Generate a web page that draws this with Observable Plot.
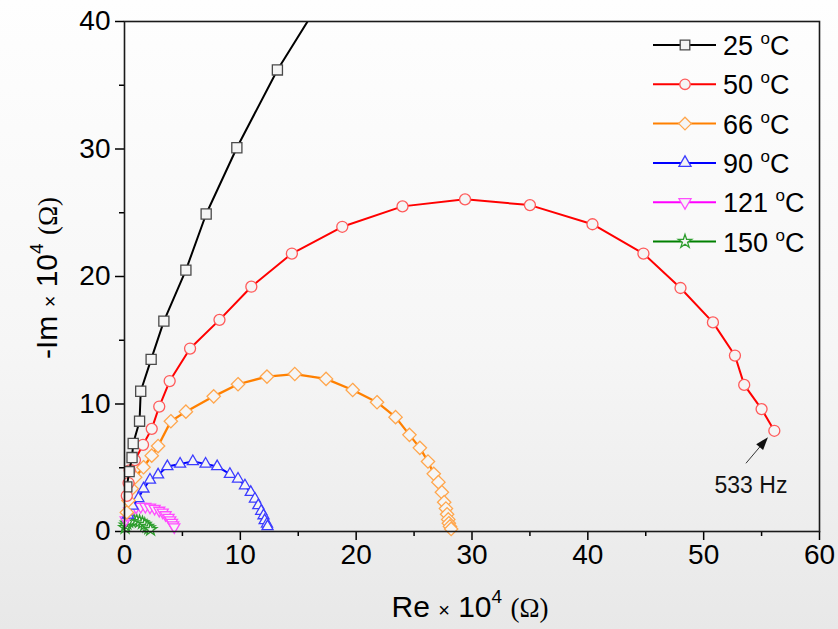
<!DOCTYPE html>
<html><head><meta charset="utf-8">
<script src="https://cdn.jsdelivr.net/npm/d3@7"></script>
<script src="https://cdn.jsdelivr.net/npm/@observablehq/plot@0.6"></script>
<style>
body{margin:0;background:#fff;}
#wrap{position:relative;width:838px;height:629px;overflow:hidden;
 background:linear-gradient(to bottom,#fefefe 0%,#f6f6f6 55%,#e8e8e8 100%);
 font-family:"Liberation Sans",Arial,sans-serif;color:#000;}
#wrap > svg{position:absolute;left:0;top:0;}
.lab{position:absolute;white-space:nowrap;font-size:30px;line-height:1;}
.lab .x{font-size:20px;}
.lab sup{font-size:19px;position:relative;top:-3px;}
.lab .om{font-family:"Liberation Serif","Times New Roman",serif;font-size:27px;}
#ylab{transform-origin:center center;transform:translate(-50%,-50%) rotate(-90deg);}
#xlab{transform:translate(-50%,-50%);}
</style></head><body><div id="wrap"></div>
<script>
// ---- data (Re x 10^4 Ω, -Im x 10^4 Ω) ----
const temps = ["25", "50", "66", "90", "121", "150"];
const colors = ["#000000", "#ff0000", "#ff8000", "#0000ff", "#ff00ff", "#008000"];
const markerColors = ["#4a4a4a", "#ff5a5a", "#ffa64d", "#3c3cff", "#ff4dff", "#2e9e2e"];

const re25 = [0.2, 0.4, 0.65, 0.75, 1.3, 1.4, 2.3, 3.4, 5.3, 7.05, 9.7, 13.2, 16.9];
const im25 = [3.5, 4.7, 5.8, 6.9, 8.65, 11.0, 13.5, 16.5, 20.5, 24.9, 30.1, 36.2, 41.6];

const re50 = [0.2, 0.35, 0.45, 0.9, 1.6, 2.35, 3.0, 3.9, 5.66, 8.2, 10.95, 14.45, 18.8, 24.0, 29.4, 35.0, 40.4, 44.8, 48.0, 50.8, 52.7, 53.5, 55.0, 56.1];
const im50 = [2.8, 3.8, 4.8, 5.6, 6.8, 8.05, 9.8, 11.8, 14.35, 16.6, 19.2, 21.8, 23.9, 25.5, 26.05, 25.6, 24.1, 21.8, 19.1, 16.4, 13.8, 11.5, 9.6, 7.9];

const re66 = [0.2, 0.34, 0.63, 0.92, 1.64, 2.35, 2.9, 4.0, 5.3, 7.7, 9.8, 12.3, 14.7, 17.4, 19.7, 21.8, 23.4, 24.6, 25.5, 26.2, 26.7, 27.1, 27.4, 27.6, 27.75, 27.85, 27.95, 28.0, 28.1, 28.2];
const im66 = [1.5, 2.43, 3.35, 4.26, 5.04, 5.95, 6.7, 8.65, 9.4, 10.6, 11.55, 12.15, 12.35, 11.97, 11.1, 10.14, 8.97, 7.58, 6.56, 5.49, 4.52, 3.87, 3.08, 2.3, 1.8, 1.35, 0.95, 0.65, 0.4, 0.2];

const re90 = [0.3, 0.7, 1.2, 1.64, 2.2, 2.9, 3.7, 4.8, 5.9, 7.0, 8.0, 9.1, 9.8, 10.4, 10.9, 11.26, 11.55, 11.8, 12.0, 12.1, 12.3, 12.35];
const im90 = [1.3, 2.0, 2.6, 3.35, 4.05, 4.45, 5.1, 5.3, 5.5, 5.3, 5.1, 4.5, 4.13, 3.6, 3.08, 2.56, 2.04, 1.6, 1.25, 0.86, 0.6, 0.39];

const re121 = [0.1, 0.2, 0.4, 0.7, 1.0, 1.4, 1.8, 2.2, 2.6, 3.0, 3.3, 3.55, 3.8, 3.95, 4.1, 4.2, 4.3];
const im121 = [0.9, 1.3, 1.6, 1.8, 1.9, 1.95, 1.95, 1.9, 1.8, 1.65, 1.5, 1.3, 1.1, 0.9, 0.7, 0.5, 0.35];

const re150 = [0.05, 0.1, 0.2, 0.35, 0.55, 0.8, 1.05, 1.3, 1.55, 1.75, 1.95, 2.1, 2.25];
const im150 = [0.3, 0.5, 0.65, 0.78, 0.85, 0.88, 0.85, 0.78, 0.68, 0.55, 0.4, 0.28, 0.15];

const xMajor = [0, 10, 20, 30, 40, 50, 60];
const xMinor = [5, 15, 25, 35, 45, 55];
const yMajor = [0, 10, 20, 30, 40];
const yMinor = [5, 15, 25, 35];

const annotation = {label: "533 Hz", series: 1};

// ---- symbols ----
const triDown = {
  draw(ctx, size) {
    const y = Math.sqrt(size / (Math.sqrt(3) * 3));
    ctx.moveTo(0, 2 * y);
    ctx.lineTo(-Math.sqrt(3) * y, -y);
    ctx.lineTo(Math.sqrt(3) * y, -y);
    ctx.closePath();
  }
};
const symbols = [d3.symbolSquare, d3.symbolCircle, d3.symbolDiamond2, d3.symbolTriangle, triDown, d3.symbolStar];
const radii = [5.7, 5.5, 6.0, 4.1, 4.1, 3.9];

const reArr = [re25, re50, re66, re90, re121, re150];
const imArr = [im25, im50, im66, im90, im121, im150];
const series = temps.map((t, i) => reArr[i].map((re, j) => ({re, im: imArr[i][j], t})));

const markerFill = "#f5f5f5";

const marks = [
  Plot.axisX({ticks: xMajor, tickSize: 9, tickPadding: 4, label: null, tickFormat: d => String(d), strokeWidth: 1.5}),
  Plot.axisX({ticks: xMinor, tickSize: 5, label: null, tickFormat: () => "", strokeWidth: 1.5}),
  Plot.axisY({ticks: yMajor, tickSize: 9, tickPadding: 5, label: null, tickFormat: d => String(d), strokeWidth: 1.5}),
  Plot.axisY({ticks: yMinor, tickSize: 5, label: null, tickFormat: () => "", strokeWidth: 1.5})
];
// draw later series first so 25/50 are on top
for (let i = series.length - 1; i >= 0; i--) {
  const clip = i === 0;
  marks.push(Plot.line(series[i], {x: "re", y: "im", stroke: colors[i], strokeWidth: i === 2 ? 2.3 : 2, clip}));
  marks.push(Plot.dot(series[i], {x: "re", y: "im", symbol: symbols[i], r: radii[i], stroke: markerColors[i], strokeWidth: 1.3, fill: markerFill, clip}));
}
// annotation arrow toward last point of 50 °C
const last = series[annotation.series][series[annotation.series].length - 1];
const arrowData = [{x1: last.re - 2.45, y1: last.im - 2.55, x2: last.re - 0.8, y2: last.im - 0.78, label: annotation.label}];
const head = {
  draw(ctx, size) {
    const dx = 20, dy = -24, L = Math.hypot(dx, dy);
    const ux = dx / L, uy = dy / L, px = -uy, py = ux;
    const len = 13, w = 4.5;
    ctx.moveTo(ux * len * 0.35, uy * len * 0.35);
    ctx.lineTo(-ux * len * 0.65 + px * w, -uy * len * 0.65 + py * w);
    ctx.lineTo(-ux * len * 0.65 - px * w, -uy * len * 0.65 - py * w);
    ctx.closePath();
  }
};
marks.push(Plot.link(arrowData, {x1: "x1", y1: "y1", x2: "x2", y2: "y2", stroke: "#333", strokeWidth: 1}));
marks.push(Plot.dot(arrowData, {x: "x2", y: "y2", symbol: head, r: 4, fill: "#111", stroke: "none"}));
marks.push(Plot.text(arrowData, {x: "x1", y: "y1", text: "label", dy: 22, dx: 5, fontSize: 23, fill: "#111"}));
marks.push(Plot.frame({stroke: "#1a1a1a", strokeWidth: 1.6}));

const chart = Plot.plot({
  width: 838, height: 629,
  marginLeft: 124, marginRight: 19, marginTop: 21, marginBottom: 98,
  x: {domain: [0, 60]},
  y: {domain: [0, 40]},
  style: {background: "transparent", fontFamily: "'Liberation Sans', Arial, sans-serif", fontSize: "28px", color: "#000", overflow: "visible"},
  marks
});
const wrap = document.getElementById("wrap");
wrap.appendChild(chart);

// ---- legend (inside plot, top right) ----
const legend = d3.select(wrap).append("svg").attr("width", 838).attr("height", 629)
  .style("position", "absolute").style("left", 0).style("top", 0).style("pointer-events", "none");
temps.forEach((t, i) => {
  const cy = 45 + i * 39.3;
  legend.append("line").attr("x1", 653).attr("x2", 716).attr("y1", cy).attr("y2", cy)
    .attr("stroke", colors[i]).attr("stroke-width", 2);
  legend.append("path").attr("transform", `translate(685,${cy})`)
    .attr("d", d3.symbol().type(symbols[i]).size(Math.PI * radii[i] * radii[i] * (i >= 3 ? 1.2 : 0.9))())
    .attr("fill", markerFill).attr("stroke", markerColors[i]).attr("stroke-width", 1.3);
  const tx = legend.append("text").attr("x", 723).attr("y", cy + 10)
    .attr("font-family", "'Liberation Sans', Arial, sans-serif").attr("font-size", 27).attr("fill", "#000");
  tx.append("tspan").text(t + " ");
  tx.append("tspan").attr("dy", -11).attr("font-size", 17).text("o");
  tx.append("tspan").attr("dy", 11).text("C");
});

// ---- axis titles ----
const xl = document.createElement("div");
xl.className = "lab"; xl.id = "xlab";
xl.style.left = "470px"; xl.style.top = "606px";
xl.innerHTML = 'Re <span class="x">×</span> 10<sup>4</sup> <span class="om">(Ω)</span>';
wrap.appendChild(xl);
const yl = document.createElement("div");
yl.className = "lab"; yl.id = "ylab";
yl.style.left = "46px"; yl.style.top = "278px";
yl.innerHTML = '-Im <span class="x">×</span> 10<sup>4</sup> <span class="om">(Ω)</span>';
wrap.appendChild(yl);
</script></body></html>
